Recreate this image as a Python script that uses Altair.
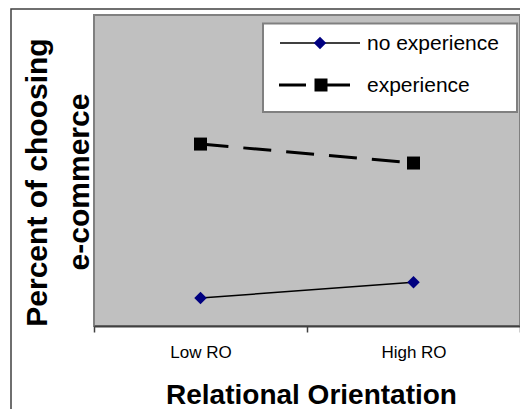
import altair as alt
import pandas as pd

categories = ["Low RO", "High RO"]
series = ["no experience", "experience"]
no_experience = [9.0, 14.1]
experience = [58.5, 52.4]

rows = []
for i, c in enumerate(categories):
    rows.append({"ro": c, "series": series[0], "value": no_experience[i]})
    rows.append({"ro": c, "series": series[1], "value": experience[i]})
df = pd.DataFrame(rows)

FONT = "Liberation Sans"

x_enc = alt.X(
    "ro:N",
    sort=categories,
    bandPosition=0.5,
    scale=alt.Scale(type="band", domain=categories, paddingInner=0, paddingOuter=0),
    axis=alt.Axis(
        title="Relational Orientation",
        labelAngle=0,
        tickBand="extent",
        tickSize=6,
        tickWidth=1.5,
        tickColor="#404040",
        domainColor="#404040",
        domainWidth=2,
        labelFont=FONT,
        labelFontSize=17,
        labelColor="black",
        labelPadding=12,
        titleFont=FONT,
        titleFontSize=28,
        titleFontWeight="bold",
        titleColor="black",
        titleX=217,
        titleY=77,
        titleAlign="center",
        titleBaseline="alphabetic",
        zindex=1,
    ),
)
y_enc = alt.Y("value:Q", scale=alt.Scale(domain=[0, 100]), axis=None)

base = alt.Chart(df).encode(x=x_enc, y=y_enc)

one = pd.DataFrame({"k": [0]})

border = alt.Chart(one).mark_rect(fill="white", stroke="#404040", strokeWidth=1.5).encode(
    x=alt.value(-83), x2=alt.value(500), y=alt.value(-6), y2=alt.value(500)
)

plot_bg = alt.Chart(one).mark_rect(fill="#c0c0c0", stroke="#808080", strokeWidth=2).encode(
    x=alt.value(0), x2=alt.value(426), y=alt.value(0), y2=alt.value(311)
)

line_no = base.transform_filter(alt.datum.series == series[0]).mark_line(
    color="black", strokeWidth=1.5
)
pts_no = base.transform_filter(alt.datum.series == series[0]).mark_point(
    shape="diamond", size=156, filled=True, color="#000080", opacity=1
)
line_ex = base.transform_filter(alt.datum.series == series[1]).mark_line(
    color="black", strokeWidth=3, strokeDash=[28, 15]
)
pts_ex = base.transform_filter(alt.datum.series == series[1]).mark_point(
    shape="square", size=169, filled=True, color="black", opacity=1
)

# legend box
leg_box = alt.Chart(one).mark_rect(fill="white", stroke="#808080", strokeWidth=2).encode(
    x=alt.value(169), x2=alt.value(423), y=alt.value(8.5), y2=alt.value(97)
)
leg_l1 = alt.Chart(one).mark_rule(color="black", strokeWidth=1.5).encode(
    x=alt.value(186), x2=alt.value(266), y=alt.value(28)
)
leg_p1 = alt.Chart(one).mark_point(shape="diamond", size=156, filled=True, color="#000080", opacity=1).encode(
    x=alt.value(226), y=alt.value(28)
)
leg_l2a = alt.Chart(one).mark_rule(color="black", strokeWidth=3).encode(
    x=alt.value(185), x2=alt.value(212), y=alt.value(70)
)
leg_l2b = alt.Chart(one).mark_rule(color="black", strokeWidth=3).encode(
    x=alt.value(227), x2=alt.value(256), y=alt.value(70)
)
leg_p2 = alt.Chart(one).mark_point(shape="square", size=169, filled=True, color="black", opacity=1).encode(
    x=alt.value(227), y=alt.value(70)
)
leg_t1 = alt.Chart(one).mark_text(
    text=series[0], font=FONT, fontSize=21, align="left", baseline="alphabetic", color="black"
).encode(x=alt.value(273), y=alt.value(35))
leg_t2 = alt.Chart(one).mark_text(
    text=series[1], font=FONT, fontSize=21, align="left", baseline="alphabetic", color="black"
).encode(x=alt.value(273), y=alt.value(77))

# y title (two lines, rotated)
yt1 = alt.Chart(one).mark_text(
    text="Percent of choosing", font=FONT, fontSize=30, fontWeight="bold",
    angle=270, align="center", baseline="alphabetic", color="black"
).encode(x=alt.value(-47.5), y=alt.value(167.5))
yt2 = alt.Chart(one).mark_text(
    text="e-commerce", font=FONT, fontSize=30, fontWeight="bold",
    angle=270, align="center", baseline="alphabetic", color="black"
).encode(x=alt.value(-5), y=alt.value(167))

chart = alt.layer(
    border, plot_bg,
    line_no, line_ex, pts_no, pts_ex,
    leg_box, leg_l1, leg_p1, leg_l2a, leg_l2b, leg_p2, leg_t1, leg_t2,
    yt1, yt2,
).properties(
    width=426,
    height=311,
    autosize=alt.AutoSizeParams(type="none"),
    padding={"left": 86, "top": 7, "right": 0, "bottom": 83},
    background="white",
).configure_view(stroke=None)

chart.save("out.html", embed_options={"renderer": "svg", "actions": False})
